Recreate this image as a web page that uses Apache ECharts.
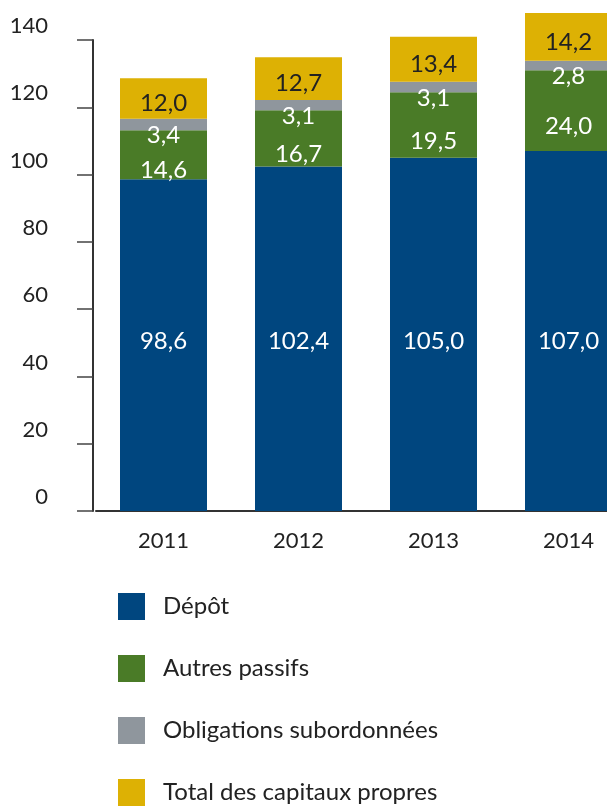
<!DOCTYPE html>
<html lang="fr">
<head>
    <meta charset="UTF-8">
    <title>Passifs 2011-2014</title>
    <script src="https://cdn.jsdelivr.net/npm/echarts@6/dist/echarts.min.js"></script>
    <style>
        html, body { margin: 0; padding: 0; background: #fff; }
        #chart { width: 607px; height: 811px; }
    </style>
</head>
<body>
    <div id="chart"></div>
    <script>
        // data
        var years = ['2011', '2012', '2013', '2014'];
        var depot = [98.6, 102.4, 105.0, 107.0];
        var autresPassifs = [14.6, 16.7, 19.5, 24.0];
        var obligations = [3.4, 3.1, 3.1, 2.8];
        var capitauxPropres = [12.0, 12.7, 13.4, 14.2];
        var yTicks = { min: 0, max: 140, step: 20 };

        var font = 'Lato';

        function fmt(p) {
            return p.value.toFixed(1).replace('.', ',');
        }

        function barLabel(color, extra) {
            var l = {
                show: true,
                formatter: fmt,
                color: color,
                fontFamily: font,
                fontSize: 24,
                lineHeight: 24
            };
            for (var k in extra) l[k] = extra[k];
            return l;
        }

        var chart = echarts.init(document.getElementById('chart'));

        chart.setOption({
            animation: false,
            textStyle: { fontFamily: font },
            // the last bar runs past the right edge of the picture
            grid: { left: 96, top: 40, right: -29, bottom: 300, outerBoundsMode: 'none', containLabel: false },
            legend: {
                orient: 'vertical',
                left: 118,
                top: 593,
                padding: 0,
                icon: 'rect',
                itemWidth: 27,
                itemHeight: 27,
                itemGap: 35,
                textStyle: { fontFamily: font, fontSize: 24, color: '#222', padding: [0, 0, 0, 13], lineHeight: 27 },
                data: ['Dépôt', 'Autres passifs', 'Obligations subordonnées', 'Total des capitaux propres']
            },
            xAxis: {
                type: 'category',
                data: years,
                axisLine: { lineStyle: { color: '#333', width: 2 } },
                axisTick: { show: false },
                axisLabel: { fontFamily: font, fontSize: 22, color: '#222', margin: 19 }
            },
            yAxis: {
                type: 'value',
                min: yTicks.min,
                max: yTicks.max,
                interval: yTicks.step,
                offset: 3,
                splitLine: { show: false },
                axisLine: { show: true, lineStyle: { color: '#333', width: 2 } },
                axisTick: { show: true, length: 16, lineStyle: { color: '#444', width: 1.5 } },
                axisLabel: { fontFamily: font, fontSize: 22, color: '#222', margin: 45, verticalAlign: 'bottom', lineHeight: 28 }
            },
            series: [
                {
                    name: 'Dépôt', type: 'bar', stack: 'total', barWidth: 87, clip: false,
                    itemStyle: { color: '#00467f' },
                    label: barLabel('#fff', { position: 'insideBottom', distance: 158 }),
                    data: depot
                },
                {
                    name: 'Autres passifs', type: 'bar', stack: 'total', clip: false,
                    itemStyle: { color: '#4a7b27' },
                    label: barLabel('#fff', { position: 'inside', offset: [0, 16] }),
                    data: autresPassifs
                },
                {
                    name: 'Obligations subordonnées', type: 'bar', stack: 'total', clip: false,
                    itemStyle: { color: '#8f969d' },
                    label: barLabel('#fff', { position: 'inside', offset: [0, 11] }),
                    data: obligations
                },
                {
                    name: 'Total des capitaux propres', type: 'bar', stack: 'total', clip: false,
                    itemStyle: { color: '#ddb104' },
                    label: barLabel('#222', { position: 'inside', offset: [0, 5] }),
                    data: capitauxPropres
                }
            ]
        });
    </script>
</body>
</html>
